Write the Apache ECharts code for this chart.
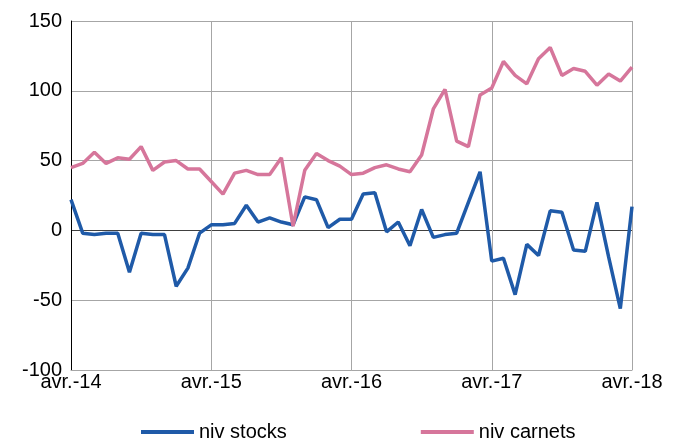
<!DOCTYPE html>
<html>
<head>
<meta charset="utf-8">
<script src="https://cdn.jsdelivr.net/npm/echarts@6/dist/echarts.min.js"></script>
<style>
  html, body { margin: 0; padding: 0; background: #fff; }
  #chart { width: 680px; height: 439px; }
</style>
</head>
<body>
<div id="chart"></div>
<script>
// mois avr.-14 -> avr.-18
const monthNames = ['avr.', 'mai', 'juin', 'juil.', 'août', 'sept.', 'oct.', 'nov.', 'déc.', 'janv.', 'févr.', 'mars']
const years = ['14', '15', '16', '17', '18']
const yTicks = [-100, -50, 0, 50, 100, 150]

const nivStocks = [22, -2, -3, -2, -2, -30, -2, -3, -3, -40, -27, -2,
  4, 4, 5, 18, 6, 9, 6, 4, 24, 22, 2, 8,
  8, 26, 27, -1, 6, -11, 15, -5, -3, -2, 20, 42,
  -22, -20, -46, -10, -18, 14, 13, -14, -15, 20, -19, -56,
  17]
const nivCarnets = [45, 48, 56, 48, 52, 51, 60, 43, 49, 50, 44, 44,
  35, 26, 41, 43, 40, 40, 52, 3, 43, 55, 50, 46,
  40, 41, 45, 47, 44, 42, 54, 87, 101, 64, 60, 97,
  102, 121, 111, 105, 123, 131, 111, 116, 114, 104, 112, 107,
  117]

const categories = []
for (let y = 0; y < years.length; y++) {
  for (let m = 0; m < monthNames.length; m++) {
    // avril de l'année suivante commence après mars
    const yr = m < 9 ? years[y] : years[y + 1]
    if (!yr) break
    categories.push(monthNames[m] + '-' + yr)
    if (y === years.length - 1) break
  }
}

const chart = echarts.init(document.getElementById('chart'))

const font = 'Liberation Sans, Arial, sans-serif'

chart.setOption({
  animation: false,
  textStyle: { fontFamily: font },
  grid: { left: 71, right: 48, top: 21, bottom: 69 },
  legend: {
    left: 136,
    top: 417,
    itemWidth: 53,
    itemHeight: 4,
    itemGap: 134,
    icon: 'rect',
    textStyle: { fontSize: 20, color: '#000', fontFamily: font },
    data: ['niv stocks', 'niv carnets']
  },
  xAxis: {
    type: 'category',
    data: categories,
    boundaryGap: false,
    axisLine: { onZero: false, lineStyle: { color: '#a6a6a6', width: 1 } },
    axisTick: { show: false },
    axisLabel: {
      interval: 11,
      fontSize: 20,
      color: '#000',
      margin: 2,
      fontFamily: font
    },
    splitLine: {
      show: true,
      interval: 11,
      lineStyle: { color: '#a6a6a6', width: 1 }
    }
  },
  yAxis: {
    type: 'value',
    min: yTicks[0],
    max: yTicks[yTicks.length - 1],
    interval: 50,
    axisLine: { show: true, lineStyle: { color: '#000', width: 1 } },
    axisTick: { show: false },
    axisLabel: { fontSize: 20, color: '#000', margin: 9, fontFamily: font },
    splitLine: {
      show: true,
      lineStyle: {
        // la ligne du zéro est plus foncée
        color: ['#a6a6a6', '#a6a6a6', '#404040', '#a6a6a6', '#a6a6a6', '#a6a6a6'],
        width: 1
      }
    }
  },
  series: [
    {
      name: 'niv stocks',
      type: 'line',
      data: nivStocks,
      symbol: 'none',
      itemStyle: { color: '#1f5aa8' },
      lineStyle: { color: '#1f5aa8', width: 3.5 }
    },
    {
      name: 'niv carnets',
      type: 'line',
      data: nivCarnets,
      symbol: 'none',
      itemStyle: { color: '#d6769b' },
      lineStyle: { color: '#d6769b', width: 3.5 }
    }
  ]
})
</script>
</body>
</html>
